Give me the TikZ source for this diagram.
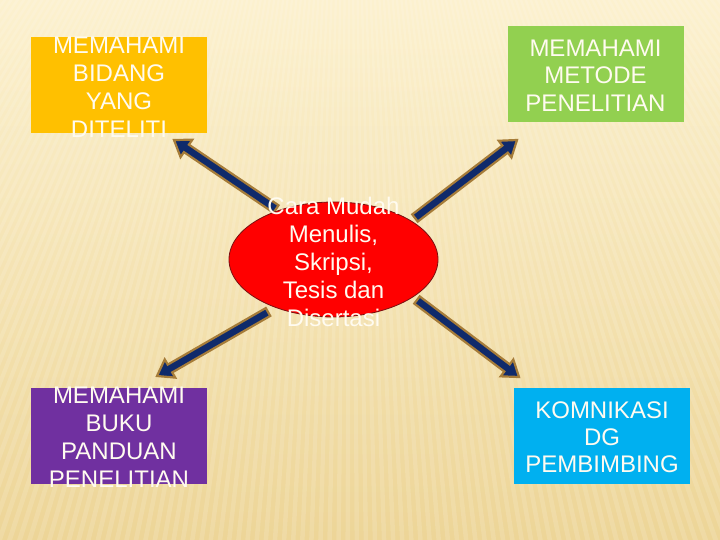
\documentclass[tikz,border=0pt]{standalone}
\usepackage{fontspec}
\setmainfont{Liberation Sans}
\usetikzlibrary{shapes.geometric,calc}
\definecolor{bgtop}{HTML}{FCF1CF}
\definecolor{bgbot}{HTML}{EDD597}
\definecolor{boxorange}{HTML}{FFC000}
\definecolor{boxgreen}{HTML}{92D050}
\definecolor{boxpurple}{HTML}{7030A0}
\definecolor{boxcyan}{HTML}{00B0F0}
\definecolor{ellred}{HTML}{FF0000}
\definecolor{ellline}{HTML}{7A1010}
\definecolor{arrnavy}{HTML}{0F2A6B}
\definecolor{arrline}{HTML}{A67C39}
\definecolor{txtwhite}{HTML}{FFFBF0}
\begin{document}
\begin{tikzpicture}[x=1pt,y=-1pt,
  boxnode/.style={rectangle,inner sep=0pt,draw=none,minimum width=176pt,minimum height=96pt},
  txtnode/.style={text=txtwhite,align=center,inner sep=0pt,font=\fontsize{24}{28}\selectfont},
  arrowbody/.style={draw=arrline,line width=2.2pt,fill=arrnavy,line join=miter}]
\useasboundingbox (0,0) rectangle (720,540);
% background
\shade[top color=bgtop,bottom color=bgbot] (0,0) rectangle (720,540);
\begin{scope}
\clip (0,0) rectangle (720,540);
\coordinate (F) at (350,-500);
\foreach \a in {50,50.5,...,130}{
  \fill[white,opacity=0.13] (F) -- +(\a:1700) -- +(\a+0.25:1700) -- cycle;
}
\end{scope}
% boxes
\node[boxnode,fill=boxorange] (b1) at (119,85.5) {};
\node[boxnode,fill=boxgreen] (b2) at (595.5,74.5) {};
\node[boxnode,fill=boxpurple] (b3) at (119,436) {};
\node[boxnode,fill=boxcyan] (b4) at (602,436) {};
% arrows
\coordinate (t1) at (276,209);
\coordinate (p1) at (174,140);
\coordinate (t2) at (415,218);
\coordinate (p2) at (517,140);
\coordinate (t3) at (268,312);
\coordinate (p3) at (157,376);
\coordinate (t4) at (417,300);
\coordinate (p4) at (519,377);
\foreach \t/\p in {t1/p1,t2/p2,t3/p3,t4/p4}{
  \path ($(\p)!15pt!(\t)$) coordinate (hb);
  \draw[arrowbody] ($(\t)!4.5pt!90:(\p)$) -- ($(hb)!4.5pt!90:(\p)$) -- ($(hb)!10.5pt!90:(\p)$) -- (\p)
     -- ($(hb)!10.5pt!-90:(\p)$) -- ($(hb)!4.5pt!-90:(\p)$) -- ($(\t)!4.5pt!-90:(\p)$) -- cycle;
}
% ellipse
\node[ellipse,fill=ellred,draw=ellline,line width=0.8pt,minimum width=209pt,minimum height=115pt,inner sep=0pt] (c) at (333.5,259.5) {};
% texts
\node[txtnode] at ($(b1)+(0,1.5)$) {MEMAHAMI\\BIDANG\\YANG\\DITELITI};
\node[txtnode,font=\fontsize{24}{27.5}\selectfont] at ($(b2)+(0,1)$) {MEMAHAMI\\METODE\\PENELITIAN};
\node[txtnode] at ($(b3)+(0,1)$) {MEMAHAMI\\BUKU\\PANDUAN\\PENELITIAN};
\node[txtnode,font=\fontsize{24}{27}\selectfont] at ($(b4)+(0,1)$) {KOMNIKASI\\DG\\PEMBIMBING};
\node[txtnode] at ($(c)+(0,2)$) {Cara Mudah\\Menulis,\\Skripsi,\\Tesis dan\\Disertasi};
\end{tikzpicture}
\end{document}
